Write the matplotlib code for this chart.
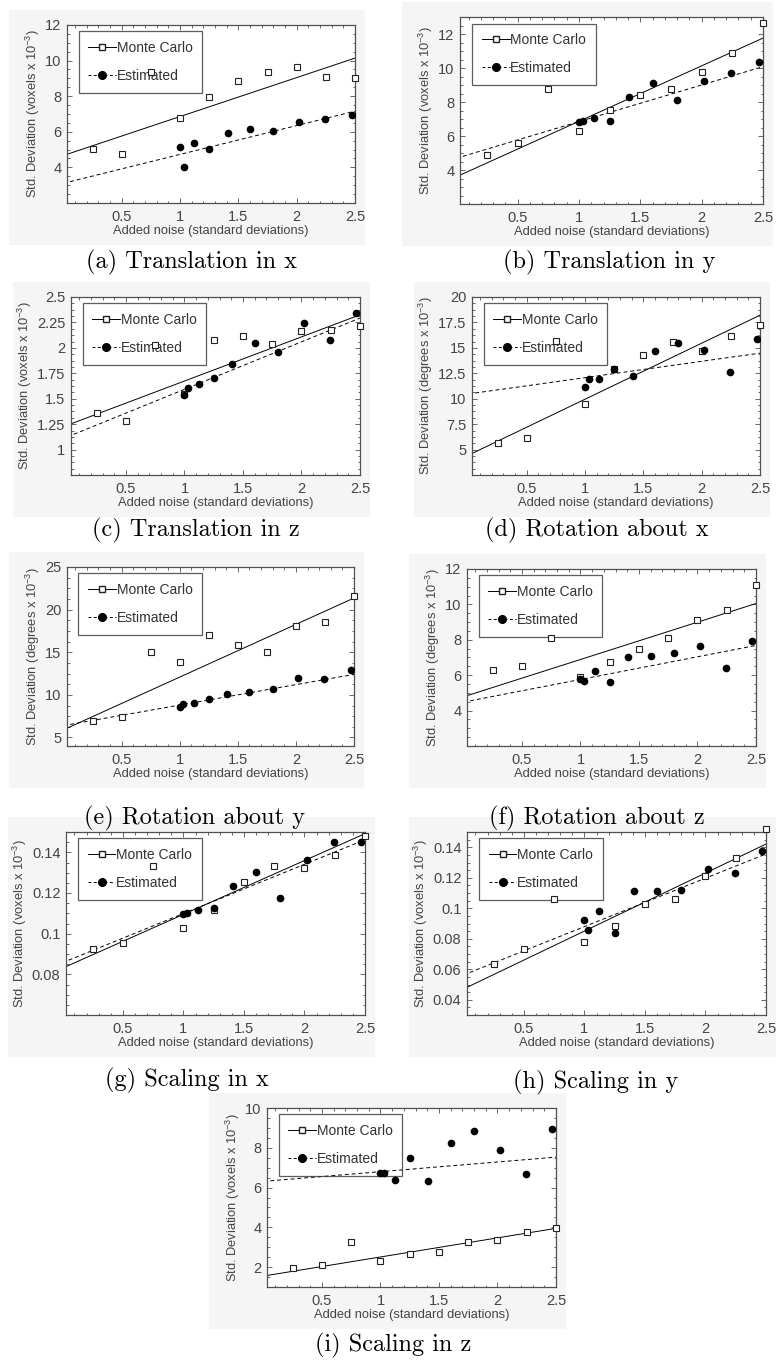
import numpy as np
import matplotlib.pyplot as plt
from matplotlib.lines import Line2D
from matplotlib.patches import Rectangle
from matplotlib.ticker import MultipleLocator, AutoMinorLocator, FuncFormatter

plt.rcParams['font.family'] = ['Liberation Sans', 'DejaVu Sans']
plt.rcParams['mathtext.fontset'] = 'custom'
plt.rcParams['mathtext.rm'] = 'Liberation Sans'
plt.rcParams['mathtext.it'] = 'Liberation Sans:italic'

W, H = 781, 1367

# noise levels (standard deviations)
mc_x = [0.25, 0.5, 0.75, 1.0, 1.25, 1.5, 1.75, 2.0, 2.25, 2.5]
est_x = [1.0, 1.03, 1.12, 1.25, 1.41, 1.6, 1.8, 2.02, 2.24, 2.47]
fit_x = [0.0, 2.5]

captions = ['(a) Translation in x', '(b) Translation in y', '(c) Translation in z',
            '(d) Rotation about x', '(e) Rotation about y', '(f) Rotation about z',
            '(g) Scaling in x', '(h) Scaling in y', '(i) Scaling in z']
units = ['voxels', 'voxels', 'voxels', 'degrees', 'degrees', 'degrees',
         'voxels', 'voxels', 'voxels']

# Monte Carlo std. deviations (x 10^-3)
mc_a = [5.02, 4.74, 9.36, 6.75, 7.94, 8.87, 9.34, 9.64, 9.06, 9.02]
mc_b = [4.91, 5.60, 8.76, 6.29, 7.51, 8.42, 8.76, 9.75, 10.91, 12.65]
mc_c = [1.363, 1.281, 2.03, 1.55, 2.073, 2.119, 2.037, 2.168, 2.178, 2.214]
mc_d = [5.65, 6.14, 15.65, 9.45, 12.9, 14.25, 15.62, 14.74, 16.20, 17.24]
mc_e = [6.91, 7.42, 15.01, 13.88, 17.0, 15.87, 15.01, 18.09, 18.56, 21.56]
mc_f = [6.29, 6.53, 8.09, 5.92, 6.75, 7.46, 8.09, 9.13, 9.67, 11.11]
mc_g = [0.0923, 0.0955, 0.1333, 0.1030, 0.1118, 0.1253, 0.1333, 0.1325, 0.1387, 0.1478]
mc_h = [0.0635, 0.0731, 0.1063, 0.0777, 0.0885, 0.1030, 0.1063, 0.1211, 0.1327, 0.1520]
mc_i = [1.98, 2.12, 3.28, 2.32, 2.67, 2.78, 3.28, 3.37, 3.78, 3.95]

# estimated std. deviations
est_a = [5.15, 4.04, 5.38, 5.02, 5.92, 6.16, 6.05, 6.57, 6.70, 6.96]
est_b = [6.80, 6.90, 7.04, 6.90, 8.32, 9.09, 8.11, 9.25, 9.73, 10.34]
est_c = [1.540, 1.609, 1.648, 1.703, 1.838, 2.044, 1.959, 2.240, 2.080, 2.342]
est_d = [11.17, 11.92, 11.92, 12.95, 12.21, 14.74, 15.45, 14.80, 12.63, 15.88]
est_e = [8.62, 8.94, 9.01, 9.56, 10.14, 10.30, 10.69, 12.01, 11.90, 12.87]
est_f = [5.77, 5.66, 6.21, 5.60, 7.03, 7.07, 7.24, 7.65, 6.38, 7.93]
est_g = [0.1097, 0.1100, 0.1115, 0.1128, 0.1233, 0.1303, 0.1175, 0.1362, 0.1450, 0.1453]
est_h = [0.0926, 0.0857, 0.0983, 0.0835, 0.1111, 0.1111, 0.1122, 0.1256, 0.1230, 0.1376]
est_i = [6.73, 6.75, 6.40, 7.50, 6.33, 8.25, 8.82, 7.87, 6.70, 8.92]

# fitted lines, value at x = 0 and x = 2.5
mcfit_a, estfit_a = [4.67, 10.14], [3.11, 7.16]
mcfit_b, estfit_b = [3.60, 11.76], [4.69, 10.08]
mcfit_c, estfit_c = [1.24, 2.325], [1.125, 2.293]
mcfit_d, estfit_d = [4.45, 18.21], [10.47, 14.48]
mcfit_e, estfit_e = [5.90, 21.36], [6.40, 12.40]
mcfit_f, estfit_f = [4.78, 10.05], [4.48, 7.68]
mcfit_g, estfit_g = [0.0830, 0.1492], [0.0857, 0.1462]
mcfit_h, estfit_h = [0.0470, 0.1421], [0.0562, 0.1356]
mcfit_i, estfit_i = [1.55, 3.95], [6.31, 7.53]

ylims = [(2, 12), (2, 13), (0.75, 2.5), (2.5, 20), (4, 25), (2, 12),
         (0.06, 0.15), (0.03, 0.15), (1, 10)]
yticks = [[4, 6, 8, 10, 12], [4, 6, 8, 10, 12], [1, 1.25, 1.5, 1.75, 2, 2.25, 2.5],
          [5, 7.5, 10, 12.5, 15, 17.5, 20], [5, 10, 15, 20, 25], [4, 6, 8, 10, 12],
          [0.08, 0.1, 0.12, 0.14], [0.04, 0.06, 0.08, 0.1, 0.12, 0.14], [2, 4, 6, 8, 10]]
xticks = [0.5, 1, 1.5, 2, 2.5]

mcs = [mc_a, mc_b, mc_c, mc_d, mc_e, mc_f, mc_g, mc_h, mc_i]
ests = [est_a, est_b, est_c, est_d, est_e, est_f, est_g, est_h, est_i]
mcfits = [mcfit_a, mcfit_b, mcfit_c, mcfit_d, mcfit_e, mcfit_f, mcfit_g, mcfit_h, mcfit_i]
estfits = [estfit_a, estfit_b, estfit_c, estfit_d, estfit_e, estfit_f, estfit_g, estfit_h, estfit_i]

# axes boxes in pixels: left, top, right, bottom
boxes = [(67, 25, 355, 203), (460, 17, 763, 204),
         (71, 297, 360, 475), (472, 297, 760, 475),
         (67, 567, 354, 746), (467, 569, 756, 746),
         (66, 832, 365, 1015), (467, 832, 766, 1015),
         (267, 1108, 556, 1287)]
cap_pos = [(192, 262), (609, 262), (196, 530), (597, 530), (195, 818),
           (597, 818), (187, 1080), (596, 1082), (393, 1345)]

fig = plt.figure(figsize=(W / 100, H / 100), dpi=100)
fig.patch.set_facecolor('white')

grey = '#505050'
txt = '#444444'
fmt = FuncFormatter(lambda v, p: '%g' % v)

for k in range(9):
    l, t, r, b = boxes[k]
    # light grey backdrop of the pasted screenshot
    fig.patches.append(Rectangle(((l - 58) / W, 1 - (b + 42) / H), (r - l + 68) / W,
                                 (b - t + 57) / H, transform=fig.transFigure,
                                 facecolor='#f5f5f5', edgecolor='none', zorder=-10))
    ax = fig.add_axes([l / W, 1 - b / H, (r - l) / W, (b - t) / H])
    ax.set_facecolor('white')

    ax.plot(fit_x, mcfits[k], '-', color='black', lw=0.7)
    ax.plot(fit_x, estfits[k], '--', color='black', lw=0.7, dashes=(4, 3))
    ax.plot(mc_x, mcs[k], 's', ms=4.2, mfc='white', mec='#222222', mew=0.8,
            clip_on=False, zorder=5)
    ax.plot(est_x, ests[k], 'o', ms=4.5, color='black', zorder=5)

    ax.set_xlim(0.03, 2.5)
    ax.set_ylim(*ylims[k])
    ax.set_xticks(xticks)
    ax.set_yticks(yticks[k])
    ax.xaxis.set_major_formatter(fmt)
    ax.yaxis.set_major_formatter(fmt)
    ax.xaxis.set_minor_locator(MultipleLocator(0.1))
    ax.yaxis.set_minor_locator(AutoMinorLocator(4))
    ax.tick_params(which='both', direction='in', top=True, right=True,
                   color=grey, width=0.6)
    ax.tick_params(which='major', length=3.5, labelsize=10.5, labelcolor=txt)
    ax.tick_params(axis='x', which='major', pad=5)
    ax.tick_params(axis='y', which='major', pad=4)
    ax.tick_params(which='minor', length=1.8)
    for s in ax.spines.values():
        s.set_color(grey)
        s.set_linewidth(0.9)

    ax.set_xlabel('Added noise (standard deviations)', fontsize=9.3, color=txt,
                  labelpad=1)
    ax.set_ylabel('Std. Deviation (%s x 10$^{-3}$)' % units[k], fontsize=9.3,
                  color=txt, labelpad=2)

    handles = [Line2D([], [], ls='-', color='black', lw=0.7, marker='s', ms=4.2,
                      mfc='white', mec='#222222'),
               Line2D([], [], ls='--', color='black', lw=0.7, marker='o', ms=5.5,
                      dashes=(3, 2.5))]
    leg = ax.legend(handles, ['Monte Carlo', 'Estimated'], loc='upper left',
                    bbox_to_anchor=(0.04, 0.965), fontsize=10, numpoints=1,
                    fancybox=False, handlelength=2.0, handletextpad=0.05,
                    labelspacing=1.0, borderpad=0.7, borderaxespad=0,
                    labelcolor='#333333')
    leg.get_frame().set_edgecolor('#333333')
    leg.get_frame().set_linewidth(0.9)
    leg.get_frame().set_facecolor('none')
    leg.set_zorder(4)

    cx, cy = cap_pos[k]
    fig.text(cx / W, 1 - cy / H, captions[k], family='cmr10', fontsize=17.5,
             ha='center', va='center')

fig.savefig('out.png', dpi=100)
